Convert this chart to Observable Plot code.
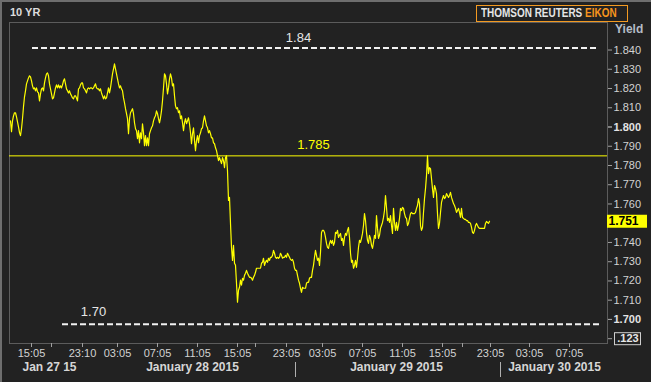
<!DOCTYPE html>
<html>
<head>
<meta charset="utf-8">
<script src="https://cdn.jsdelivr.net/npm/d3@7"></script>
<script src="https://cdn.jsdelivr.net/npm/@observablehq/plot@0.6"></script>
<style>
  html, body { margin: 0; padding: 0; background: #222; }
  #wrap { position: relative; width: 651px; height: 382px; overflow: hidden; background: #222222; font-family: "Liberation Sans", Arial, sans-serif; }
  #wrap svg { position: absolute; left: 0; top: 0; }
  #edge { position: absolute; left: 0; top: 0; width: 651px; height: 382px; box-sizing: border-box; border-left: 2px solid #6e6e6e; border-top: 2px solid #6e6e6e; pointer-events: none; }
  #title { position: absolute; left: 10px; top: 6px; color: #dcdcdc; font-weight: bold; font-size: 11px; }
  #logo { position: absolute; left: 476px; top: 5px; width: 150px; height: 15px; border: 1px solid #f39a21; overflow: hidden; }
  #logo div { position: absolute; left: 4px; top: 0; color: #e6e6e6; font-weight: bold; font-size: 12px; line-height: 15px; white-space: nowrap; transform: scaleX(0.83); transform-origin: 0 0; }
  #logo span { color: #f7941d; }
  #yield { position: absolute; left: 615px; top: 22px; color: #b4bcc6; font-weight: bold; font-size: 12px; }
</style>
</head>
<body>
<div id="wrap">
  <div id="title">10 YR</div>
  <div id="logo"><div>THOMSON REUTERS <span>EIKON</span></div></div>
  <div id="yield">Yield</div>
  <div id="edge"></div>
</div>
<script>
// 10-year yield, one value per bar (session bars, Jan 27 – Jan 29 2015)
const yields = [
1.8032,1.7976,1.8032,1.8058,1.8074,1.8074,1.8053,1.8027,1.8001,1.7971,
1.7955,1.7991,1.8043,1.8105,1.8157,1.8188,1.8224,1.8240,1.8255,1.8266,
1.8260,1.8240,1.8214,1.8198,1.8203,1.8188,1.8203,1.8183,1.8177,1.8136,
1.8172,1.8198,1.8203,1.8188,1.8229,1.8255,1.8276,1.8281,1.8266,1.8224,
1.8198,1.8172,1.8146,1.8151,1.8177,1.8203,1.8219,1.8203,1.8219,1.8203,
1.8214,1.8203,1.8219,1.8240,1.8250,1.8224,1.8198,1.8188,1.8177,1.8188,
1.8172,1.8162,1.8151,1.8146,1.8162,1.8162,1.8151,1.8136,1.8198,1.8203,
1.8219,1.8229,1.8229,1.8203,1.8198,1.8188,1.8177,1.8198,1.8203,1.8198,
1.8203,1.8203,1.8198,1.8203,1.8214,1.8224,1.8203,1.8198,1.8198,1.8188,
1.8198,1.8177,1.8162,1.8146,1.8162,1.8146,1.8151,1.8177,1.8203,1.8177,
1.8203,1.8240,1.8276,1.8302,1.8328,1.8302,1.8276,1.8250,1.8224,1.8203,
1.8214,1.8198,1.8188,1.8151,1.8126,1.8095,1.8069,1.8043,1.7965,1.8043,
1.8074,1.8084,1.8095,1.8069,1.8022,1.7991,1.7981,1.7939,1.7981,1.7918,
1.7970,1.7939,1.8017,1.7970,1.7903,1.7955,1.7903,1.7944,1.7903,1.7965,
1.7981,1.7996,1.8006,1.8032,1.8048,1.8058,1.8084,1.8069,1.8043,1.8022,
1.8048,1.8084,1.8136,1.8203,1.8276,1.8266,1.8224,1.8172,1.8203,1.8250,
1.8276,1.8255,1.8214,1.8224,1.8162,1.8110,1.8095,1.8100,1.8074,1.8084,
1.8043,1.8058,1.8022,1.7981,1.8022,1.8043,1.8017,1.8032,1.8048,1.8017,
1.7970,1.7913,1.7965,1.7996,1.7929,1.7877,1.7929,1.7955,1.7918,1.7955,
1.7970,1.7991,1.7996,1.8032,1.8058,1.8032,1.8006,1.7996,1.7970,1.7981,
1.7965,1.7944,1.7944,1.7918,1.7913,1.7892,1.7877,1.7851,1.7825,1.7841,
1.7825,1.7810,1.7841,1.7825,1.7789,1.7841,1.7851,1.7773,1.7618,1.7634,
1.7499,1.7375,1.7307,1.7385,1.7292,1.7281,1.7188,1.7090,1.7152,1.7167,
1.7204,1.7178,1.7214,1.7204,1.7229,1.7240,1.7255,1.7240,1.7229,1.7219,
1.7219,1.7214,1.7204,1.7219,1.7229,1.7245,1.7266,1.7266,1.7266,1.7266,
1.7266,1.7292,1.7297,1.7318,1.7281,1.7297,1.7307,1.7297,1.7318,1.7307,
1.7323,1.7323,1.7333,1.7359,1.7344,1.7323,1.7318,1.7323,1.7318,1.7323,
1.7344,1.7333,1.7318,1.7323,1.7323,1.7333,1.7323,1.7344,1.7333,1.7323,
1.7312,1.7307,1.7312,1.7297,1.7266,1.7255,1.7255,1.7229,1.7204,1.7188,
1.7162,1.7141,1.7167,1.7162,1.7162,1.7162,1.7188,1.7193,1.7193,1.7214,
1.7219,1.7219,1.7255,1.7281,1.7323,1.7359,1.7333,1.7307,1.7318,1.7281,
1.7349,1.7452,1.7463,1.7463,1.7452,1.7426,1.7395,1.7375,1.7369,1.7395,
1.7411,1.7395,1.7411,1.7385,1.7400,1.7452,1.7447,1.7463,1.7426,1.7437,
1.7447,1.7411,1.7421,1.7385,1.7426,1.7447,1.7437,1.7463,1.7478,1.7426,
1.7344,1.7297,1.7307,1.7266,1.7281,1.7307,1.7271,1.7318,1.7375,1.7411,
1.7400,1.7421,1.7447,1.7488,1.7550,1.7514,1.7452,1.7411,1.7395,1.7437,
1.7421,1.7385,1.7369,1.7400,1.7437,1.7421,1.7540,1.7473,1.7421,1.7437,
1.7473,1.7488,1.7504,1.7530,1.7566,1.7644,1.7582,1.7514,1.7525,1.7504,
1.7540,1.7488,1.7447,1.7577,1.7504,1.7463,1.7504,1.7463,1.7488,1.7525,
1.7577,1.7566,1.7582,1.7577,1.7550,1.7530,1.7525,1.7488,1.7499,1.7525,
1.7550,1.7556,1.7550,1.7550,1.7550,1.7556,1.7577,1.7592,1.7628,1.7602,
1.7488,1.7463,1.7478,1.7556,1.7628,1.7680,1.7747,1.7851,1.7758,1.7789,
1.7784,1.7732,1.7680,1.7634,1.7696,1.7680,1.7654,1.7550,1.7473,1.7499,
1.7556,1.7608,1.7628,1.7644,1.7628,1.7634,1.7654,1.7644,1.7634,1.7644,
1.7660,1.7634,1.7618,1.7602,1.7592,1.7577,1.7556,1.7566,1.7577,1.7556,
1.7530,1.7577,1.7530,1.7525,1.7520,1.7520,1.7514,1.7514,1.7504,1.7504,
1.7499,1.7478,1.7452,1.7447,1.7463,1.7488,1.7499,1.7488,1.7478,1.7473,
1.7473,1.7473,1.7473,1.7473,1.7473,1.7499,1.7509,1.7504,1.7499,1.7510
];
const lastValue = 1.751;

// x axis (bar index) ticks and labels
const timeTickIndex  = [21, 72, 107, 147, 187, 227, 276, 312, 352, 392, 432, 480, 519, 559];
const timeTickLabels = ["15:05","23:10","03:05","07:05","11:05","15:05","23:05","03:05","07:05","11:05","15:05","23:05","03:05","07:05"];
const minorTickIndex = [41, 245, 452];
const dayLabels      = ["Jan 27 15", "January 28 2015", "January 29 2015", "January 30 2015"];
const dayLabelIndex  = [39, 182, 386, 544];
const daySeparatorIndex = [285, 490];

// y axis ticks
const yTicks      = [1.84, 1.83, 1.82, 1.81, 1.80, 1.79, 1.78, 1.77, 1.76, 1.75, 1.74, 1.73, 1.72, 1.71, 1.70, 1.69];
const yBoldTicks  = [1.80, 1.70];
const yHidden     = [1.75, 1.69];

// drawn levels
const levelValues  = [1.841, 1.6975];
const levelLabels  = ["1.84", "1.70"];
const levelFrom    = [22, 52];
const levelTo      = [587, 590];
const levelLabelAt = [288, 83];
const midLevel = 1.785;
const midLabel = "1.785";
const midLabelAt = 303;

const levels = levelValues.map((v, i) => ({value: v, label: levelLabels[i], from: levelFrom[i], to: levelTo[i], at: levelLabelAt[i]}));
const timeLabelByIndex = new Map(timeTickIndex.map((t, i) => [t, timeTickLabels[i]]));
const fmt3 = d3.format(".3f");
const same = (a, b) => Math.abs(a - b) < 1e-9;

const chart = Plot.plot({
  width: 651,
  height: 382,
  marginLeft: 9,
  marginRight: 44,
  marginTop: 22,
  marginBottom: 39,
  style: {background: "transparent", color: "#d0d0d0", fontFamily: "'Liberation Sans', Arial, sans-serif", fontSize: "11px", overflow: "visible"},
  x: {domain: [-1, 597], axis: null},
  y: {domain: [1.6875, 1.8543], axis: null},
  marks: [
    Plot.frame({stroke: "#5c5c5c"}),
    Plot.ruleY(levels, {y: "value", x1: "from", x2: "to", stroke: "#f2f2f2", strokeWidth: 2, strokeDasharray: "6,3"}),
    Plot.text([levels[0]], {x: "at", y: "value", text: "label", dy: -10, fill: "#e6e6e6", fontSize: 13}),
    Plot.text([levels[1]], {x: "at", y: "value", text: "label", dy: -12, fill: "#e6e6e6", fontSize: 13}),
    Plot.ruleY([midLevel], {y: d => d, stroke: "#ffff00", strokeWidth: 1}),
    Plot.text([midLevel], {x: () => midLabelAt, y: d => d, text: () => midLabel, dy: -11, fill: "#ffff00", fontSize: 13}),
    Plot.lineY(yields, {x: (d, i) => i, y: d => d, stroke: "#ffff00", strokeWidth: 1.2}),
    // right y axis
    Plot.axisY(yTicks, {anchor: "right", label: null, tickSize: 4, tickPadding: 2, textAnchor: "start", stroke: "#a0a0a0", fill: "#d2d2d2",
      tickFormat: d => (yHidden.some(h => same(h, d)) || yBoldTicks.some(b => same(b, d))) ? "" : fmt3(d)}),
    Plot.axisY(yBoldTicks, {anchor: "right", label: null, tickSize: 4, tickPadding: 2, textAnchor: "start", stroke: "#a0a0a0", fill: "#e4e4e4", fontWeight: "bold",
      tickFormat: fmt3}),
    // last value box
    Plot.tickY([lastValue], {y: d => d, stroke: "#ffff00", strokeWidth: 13, insetLeft: 558, dx: 40}),
    Plot.text([lastValue], {y: d => d, frameAnchor: "right", dx: 1, textAnchor: "start", text: d => fmt3(d), fill: "#000", fontWeight: "bold", fontSize: 12}),
    // decimals widget at the 1.690 slot
    Plot.tickY([1.69], {y: d => d, stroke: "#cfcfcf", strokeWidth: 13, insetLeft: 571, dx: 34}),
    Plot.tickY([1.69], {y: d => d, stroke: "#222222", strokeWidth: 11, insetLeft: 573, dx: 33}),
    Plot.text([1.69], {y: d => d, frameAnchor: "right", dx: 20.5, textAnchor: "middle", text: () => ".123", fill: "#e6e6e6", fontWeight: "bold", fontSize: 11}),
    // bottom time axis
    Plot.axisX(timeTickIndex, {anchor: "bottom", label: null, tickSize: 4, tickPadding: 2, stroke: "#a0a0a0", fill: "#d2d2d2", tickFormat: d => timeLabelByIndex.get(d)}),
    Plot.axisX(minorTickIndex, {anchor: "bottom", label: null, tickSize: 4, stroke: "#a0a0a0", tickFormat: () => ""}),
    Plot.text(dayLabels, {x: (d, i) => dayLabelIndex[i], frameAnchor: "bottom", dy: 27, text: d => d, fill: "#d6d6d6", fontWeight: "bold", fontSize: 12}),
    Plot.tickX(daySeparatorIndex, {x: d => d, stroke: "#b0b0b0", insetTop: 306, dy: 34})
  ]
});

document.getElementById("wrap").insertBefore(chart, document.getElementById("title"));
</script>
</body>
</html>
